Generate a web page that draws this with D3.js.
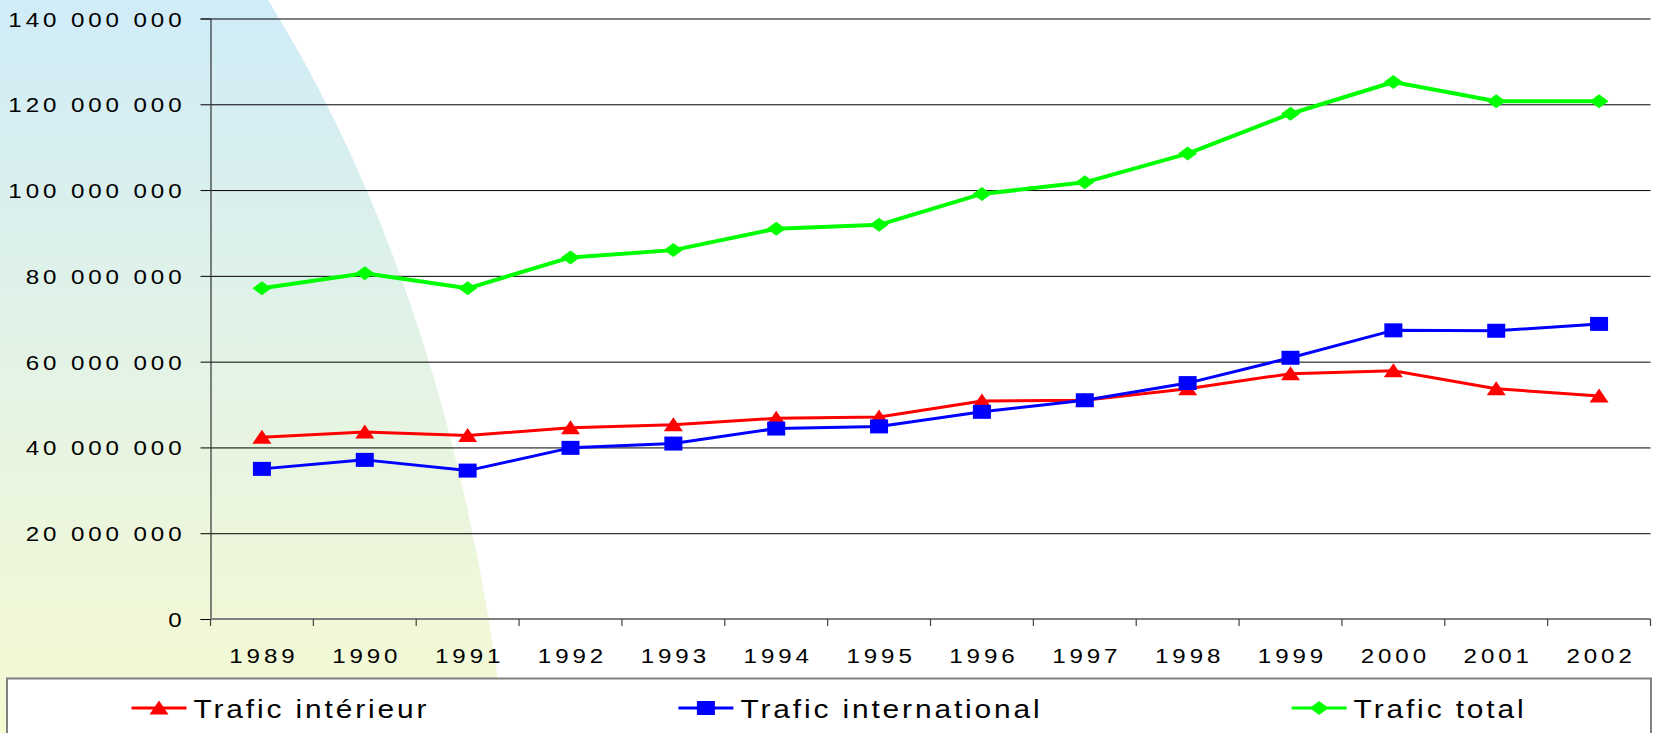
<!DOCTYPE html>
<html>
<head>
<meta charset="utf-8">
<script src="https://cdn.jsdelivr.net/npm/d3@7"></script>
<style>
  body { margin: 0; background: #fff; }
  svg { display: block; }
  text { font-family: "Liberation Sans", Arial, sans-serif; fill: #000; }
</style>
</head>
<body>
<div id="chart"></div>
<script>
// data
var years = ["1989", "1990", "1991", "1992", "1993", "1994", "1995", "1996", "1997", "1998", "1999", "2000", "2001", "2002"];
var interieur = [42.4, 43.6, 42.8, 44.6, 45.3, 46.8, 47.1, 50.8, 51.0, 53.7, 57.2, 57.9, 53.7, 52.0];
var international = [35.0, 37.1, 34.6, 39.9, 40.9, 44.4, 44.9, 48.3, 51.0, 55.0, 60.9, 67.3, 67.2, 68.8];
var total = [77.1, 80.6, 77.1, 84.3, 86.0, 91.0, 91.9, 99.1, 101.8, 108.5, 117.8, 125.2, 120.7, 120.7];
var yTicks = [0, 20e6, 40e6, 60e6, 80e6, 100e6, 120e6, 140e6];
var seriesNames = ["Trafic intérieur", "Trafic international", "Trafic total"];

var W = 1658, H = 733;
var margin = {top: 18.5, right: 7.5, bottom: 114, left: 210.5},
    width = W - margin.left - margin.right,
    height = H - margin.top - margin.bottom;

var stretch = 1.15; // text in the picture is a bit wide

var series = [
  {name: seriesNames[0], values: interieur, color: "#ff0000", shape: "triangle", lw: 3},
  {name: seriesNames[1], values: international, color: "#0000ff", shape: "square", lw: 3},
  {name: seriesNames[2], values: total, color: "#00ff00", shape: "diamond", lw: 4}
];

var svg = d3.select("#chart").append("svg")
    .attr("width", W)
    .attr("height", H);

// background gradient shape
var defs = svg.append("defs");
var grad = defs.append("linearGradient")
    .attr("id", "bg")
    .attr("x1", 0).attr("y1", 0).attr("x2", 0).attr("y2", 1);
grad.append("stop").attr("offset", "0%").attr("stop-color", "#d0ecf8");
grad.append("stop").attr("offset", "100%").attr("stop-color", "#f6fad2");

svg.append("rect").attr("width", W).attr("height", H).attr("fill", "#fff");
svg.append("path")
    .attr("d", "M0,0 L268,0 Q453,298 505,733 L0,733 Z")
    .attr("fill", "url(#bg)");

var g = svg.append("g")
    .attr("transform", "translate(" + margin.left + "," + margin.top + ")");

var x = d3.scaleBand().domain(years).range([0, width]);
var y = d3.scaleLinear().domain([0, 140e6]).range([height, 0]);
var cx = function(d, i) { return x(years[i]) + x.bandwidth() / 2; };
var cy = function(d) { return y(d * 1e6); };

var fr = d3.formatLocale({decimal: ",", thousands: " ", grouping: [3], currency: ["", " €"]});
var fmt = fr.format(",");

// gridlines
g.append("g")
    .attr("class", "grid")
    .call(d3.axisLeft(y).tickValues(yTicks).tickSize(-width).tickFormat(""))
    .call(function(s) {
      s.select(".domain").remove();
      s.selectAll("line").attr("stroke", "#000").attr("stroke-width", 1);
    });

// y axis
g.append("g")
    .attr("class", "y axis")
    .call(d3.axisLeft(y).tickValues(yTicks).tickSize(10).tickFormat(fmt))
    .call(function(s) {
      s.select(".domain").attr("stroke", "#333").attr("stroke-width", 1.2);
      s.selectAll("line").attr("stroke", "#000");
      s.selectAll("text")
          .attr("x", -25 / stretch)
          .attr("dy", "0.36em")
          .attr("transform", "scale(" + stretch + ",1)")
          .style("font-size", "21px")
          .style("letter-spacing", "3.4px")
          .style("font-family", "'Liberation Sans', Arial, sans-serif");
    });

// x axis
var xAxis = g.append("g")
    .attr("class", "x axis")
    .attr("transform", "translate(0," + height + ")");
xAxis.append("line")
    .attr("x1", 0).attr("x2", width)
    .attr("stroke", "#808080").attr("stroke-width", 2);
xAxis.selectAll(".tk")
    .data(d3.range(years.length + 1))
    .enter().append("line")
    .attr("class", "tk")
    .attr("x1", function(i) { return i * x.step(); })
    .attr("x2", function(i) { return i * x.step(); })
    .attr("y1", 0).attr("y2", 7)
    .attr("stroke", "#444").attr("stroke-width", 1.2);
xAxis.selectAll(".lbl")
    .data(years)
    .enter().append("text")
    .attr("class", "lbl")
    .attr("transform", function(d) {
      return "translate(" + (x(d) + x.bandwidth() / 2 + 2) + ",43.5) scale(" + stretch + ",1)";
    })
    .attr("text-anchor", "middle")
    .style("font-size", "21px")
    .style("letter-spacing", "3.4px")
    .text(function(d) { return d; });

// markers
function marker(sel, shape) {
  if (shape == "square") {
    sel.append("rect").attr("x", -9).attr("y", -7).attr("width", 18).attr("height", 14);
  } else if (shape == "triangle") {
    sel.append("path").attr("d", "M0,-7.5 L9.5,6.5 L-9.5,6.5 Z");
  } else {
    sel.append("path").attr("d", "M0,-7 L9.5,0 L0,7 L-9.5,0 Z");
  }
}

// lines
var line = d3.line().x(cx).y(cy);
series.forEach(function(s) {
  g.append("path")
      .datum(s.values)
      .attr("fill", "none")
      .attr("stroke", s.color)
      .attr("stroke-width", s.lw)
      .attr("stroke-linejoin", "round")
      .attr("d", line);
  g.selectAll(".m-" + s.shape)
      .data(s.values)
      .enter().append("g")
      .attr("class", "m-" + s.shape)
      .attr("fill", s.color)
      .attr("transform", function(d, i) { return "translate(" + cx(d, i) + "," + cy(d) + ")"; })
      .each(function() { marker(d3.select(this), s.shape); });
});

// legend
var legBox = {x: 7, y: 678.5, w: 1644, h: 80};
svg.append("rect")
    .attr("x", legBox.x).attr("y", legBox.y)
    .attr("width", legBox.w).attr("height", legBox.h)
    .attr("fill", "#fff")
    .attr("stroke", "#808080").attr("stroke-width", 2);

var lineLen = 55, txtGap = 7;
var legend = svg.selectAll(".legend")
    .data(series)
    .enter().append("g")
    .attr("class", "legend");

legend.append("line")
    .attr("x1", 0).attr("x2", lineLen)
    .attr("y1", 708).attr("y2", 708)
    .attr("stroke", function(d) { return d.color; })
    .attr("stroke-width", 3);
legend.append("g")
    .attr("fill", function(d) { return d.color; })
    .attr("transform", "translate(" + lineLen / 2 + ",708)")
    .each(function(d) { marker(d3.select(this), d.shape); });
legend.append("text")
    .attr("transform", "translate(" + (lineLen + txtGap) + ",718) scale(" + stretch + ",1)")
    .style("font-size", "26px")
    .style("letter-spacing", "2.5px")
    .text(function(d) { return d.name; });

// spread the items evenly (space-around)
var widths = [];
legend.each(function() {
  widths.push(lineLen + txtGap + d3.select(this).select("text").node().getComputedTextLength() * stretch);
});
var gap = (legBox.w - d3.sum(widths)) / series.length;
var pos = legBox.x + gap / 2;
legend.attr("transform", function(d, i) {
  var t = "translate(" + pos + ",0)";
  pos += widths[i] + gap;
  return t;
});
</script>
</body>
</html>
